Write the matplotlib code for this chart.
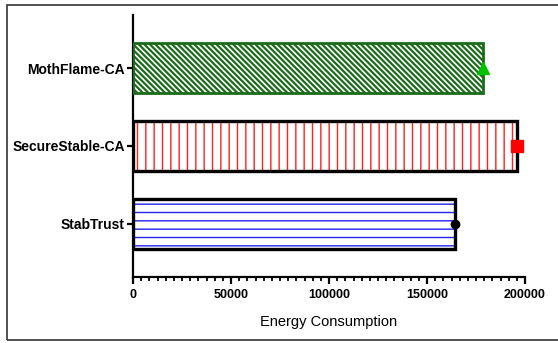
import matplotlib
matplotlib.use("Agg")
import matplotlib.pyplot as plt
from matplotlib.patches import Rectangle
from matplotlib.ticker import MultipleLocator

categories = ["StabTrust", "SecureStable-CA", "MothFlame-CA"]
values = [164500, 195800, 178500]
hatch_colors = ["#2222ee", "#ff2020", "#1a6b1a"]
edge_colors = ["black", "black", "#1a6b1a"]
hatches = ["--", "||", "\\\\\\\\\\\\"]
hatch_lws = [1.0, 1.0, 1.6]
marker_styles = ["o", "s", "^"]
marker_colors = ["black", "#ff0000", "#00c000"]
marker_sizes = [6, 9, 9]
edge_lws = [2.4, 2.4, 2.0]
xticks = [0, 50000, 100000, 150000, 200000]
xlabel = "Energy Consumption"

plt.rcParams['font.family'] = ['Liberation Sans', 'DejaVu Sans']

W, H = 558, 343
fig = plt.figure(figsize=(W / 100, H / 100), dpi=100)
ax = fig.add_axes([133 / W, 1 - 277 / H, (525 - 133) / W, (277 - 15) / H])

ypos = list(range(len(categories)))
for i in ypos:
    plt.rcParams['hatch.linewidth'] = hatch_lws[i]
    ax.barh(ypos[i], values[i], height=0.64, color="white",
            edgecolor=hatch_colors[i], linewidth=0, hatch=hatches[i], zorder=2)
    ax.barh(ypos[i], values[i], height=0.64, fill=False,
            edgecolor=edge_colors[i], linewidth=edge_lws[i], zorder=3)
    ax.plot(values[i], ypos[i], marker=marker_styles[i], color=marker_colors[i],
            markersize=marker_sizes[i], linestyle="none", zorder=4, clip_on=False)

ax.set_xlim(0, 200000)
ax.set_ylim(-0.68, 2.68)
ax.set_xticks(xticks)
ax.set_xticklabels([str(t) for t in xticks], fontsize=9, fontweight="bold")
ax.xaxis.set_minor_locator(MultipleLocator(50000 / 12))
ax.set_yticks(ypos)
ax.set_yticklabels(categories, fontsize=10, fontweight="bold")
ax.set_xlabel(xlabel, fontsize=10.5, labelpad=10)

for s in ["top", "right"]:
    ax.spines[s].set_visible(False)
for s in ["left", "bottom"]:
    ax.spines[s].set_linewidth(1.6)
ax.tick_params(axis="x", which="major", length=5, width=1.6, pad=4)
ax.tick_params(axis="x", which="minor", length=3, width=1.3)
ax.tick_params(axis="y", which="major", length=4, width=1.6, pad=2)

fig.patches.append(Rectangle((7 / W, 3 / H), 1.1, 1 - 8 / H, transform=fig.transFigure,
                             fill=False, edgecolor="#333333", linewidth=1.2,
                             clip_on=False))

fig.savefig("out.png", dpi=100)
